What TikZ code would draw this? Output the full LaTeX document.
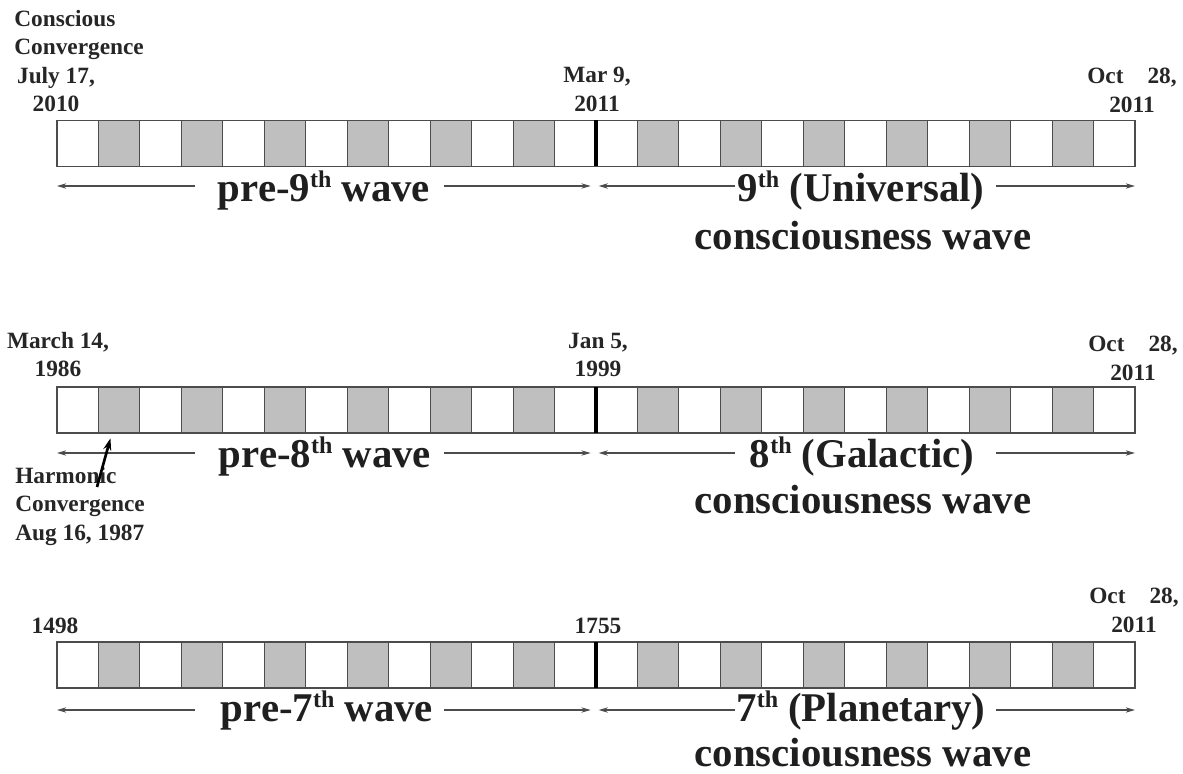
\documentclass[tikz,border=0pt]{standalone}
\usepackage{fontspec}
\setmainfont{Liberation Serif}
\usepackage{xcolor}
\usepackage{tikz}
\usetikzlibrary{arrows.meta, positioning}

\newcommand\wavenum[1]{#1\raisebox{10pt}{\fontsize{18}{18}\selectfont th}}

\begin{document}
\begin{tikzpicture}[x=0.75pt, y=-0.75pt, >={Stealth[length=7pt, width=4pt]},
    cell/.style={draw=black!70, line width=0.8pt, minimum width=31.1pt, minimum height=34.5pt, inner sep=0pt, outer sep=0pt},
    divider/.style={line width=2.8pt, black},
    span/.style={->, draw=black!70, line width=0.8pt},
    date/.style={inner sep=0pt, text=black!85, font=\fontsize{17.5}{21.3}\selectfont\bfseries, align=center},
    wave/.style={inner sep=0pt, anchor=base, text=black!88, font=\fontsize{30.6}{36}\selectfont\bfseries},
    jump/.style={-{Stealth[length=9pt, width=6pt]}, line width=2pt, black}]
    \useasboundingbox (0,0) rectangle (1183,774);

    % Cells
    \foreach \r/\y in {1/143.3, 2/410, 3/665} {
      \foreach \i in {0,...,25} {
        \pgfmathtruncatemacro\g{25*mod(\i+(\i>12),2)}
        \node[cell, fill=black!\g] (r\r-\i) at ({57+41.46*(\i+0.5)}, \y) {};
      }
      \draw[divider] (r\r-12.north east) -- (r\r-12.south east);
    }

    % Nodes
    \node[date, anchor=north west, align=left] (conscious) at (14,10) {Conscious\\Convergence};
    \node[date, anchor=north] (start9) at (56,67) {July 17,\\2010};
    \node[date, anchor=north] (mid9) at (597,67) {Mar 9,\\2011};
    \node[date, anchor=north] (end9) at (1132,68) {Oct\hspace{18pt}28,\\2011};

    \node[date, anchor=north] (start8) at (58,332) {March 14,\\1986};
    \node[date, anchor=north] (mid8) at (598,333) {Jan 5,\\1999};
    \node[date, anchor=north] (end8) at (1133,336) {Oct\hspace{18pt}28,\\2011};
    \node[date, anchor=north west, align=left] (harmonic) at (15,467) {Harmonic\\Convergence\\Aug 16, 1987};

    \node[date, anchor=north] (start7) at (55,618) {1498};
    \node[date, anchor=north] (mid7) at (598,618) {1755};
    \node[date, anchor=north] (end7) at (1134,588) {Oct\hspace{18pt}28,\\2011};

    \node[wave] (pre9) at (324,201) {pre-\wavenum{9} wave};
    \node[wave] (universal) at (861,201) {\wavenum{9} (Universal)};
    \node[wave] (cons9) at (863,249) {consciousness wave};

    \node[wave] (pre8) at (325,467) {pre-\wavenum{8} wave};
    \node[wave] (galactic) at (862,467) {\wavenum{8} (Galactic)};
    \node[wave] (cons8) at (863,513) {consciousness wave};

    \node[wave] (pre7) at (327,721) {pre-\wavenum{7} wave};
    \node[wave] (planetary) at (861,721) {\wavenum{7} (Planetary)};
    \node[wave] (cons7) at (863,766) {consciousness wave};

    % Arrows
    \foreach \r/\y in {1/186, 2/453, 3/710} {
      \coordinate (ta\r) at (195,\y);
      \coordinate (tb\r) at (444,\y);
      \coordinate (tc\r) at (735,\y);
      \coordinate (td\r) at (996,\y);
      \draw[span] (ta\r) -- (ta\r -| r\r-0.west);
      \draw[span, shorten >=4pt] (tb\r) -- (tb\r -| r\r-12.east);
      \draw[span, shorten >=2pt] (tc\r) -- (tc\r -| r\r-12.east);
      \draw[span] (td\r) -- (td\r -| r\r-25.east);
    }

    \coordinate (hcfoot) at (97,487);
    \draw[jump] (hcfoot) -- ([xshift=9pt, yshift=-4pt]r2-1.south west);
\end{tikzpicture}
\end{document}
